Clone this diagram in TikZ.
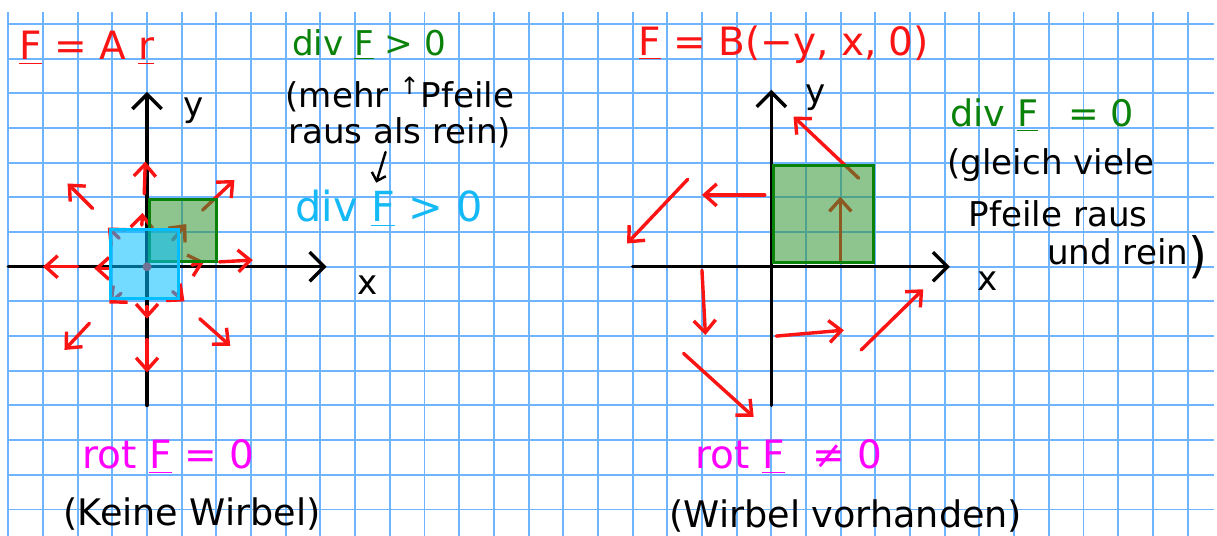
\documentclass[tikz,border=0pt]{standalone}
\usepackage{fontspec}
\setmainfont{DejaVu Sans}
\usetikzlibrary{calc, positioning}
\usetikzlibrary{arrows.meta}

\begin{document}
\begin{tikzpicture}[x=0.5cm,y=0.5cm,
  gridline/.style={draw=gridblue, line width=0.8pt},
  axisline/.style={line width=1.4pt, line cap=round,
    -{Straight Barb[length=6pt,width=12pt]}},
  fieldarrow/.style={draw=penred, line width=1.4pt, line cap=round,
    -{Straight Barb[length=5pt,width=9pt]}},
  notearrow/.style={line width=1pt, line cap=round,
    -{Straight Barb[length=3pt,width=6pt]}},
  handtext/.style={anchor=base west, inner sep=0pt, font=\fontsize{14}{17}\selectfont},
  bigtext/.style={handtext, font=\fontsize{16}{19}\selectfont},
  areabox/.style={line width=1.2pt, fill opacity=0.55, draw opacity=1},
]
\definecolor{gridblue}{RGB}{110,180,255}
\definecolor{penred}{RGB}{250,20,20}
\definecolor{pengreen}{RGB}{10,130,10}
\definecolor{pencyan}{RGB}{20,185,245}
\definecolor{penmagenta}{RGB}{255,0,255}
\definecolor{boxgreen}{RGB}{50,150,50}
\definecolor{boxcyan}{RGB}{0,190,255}

\fill[white] (-0.239,-7.737) rectangle (34.85,7.69);
\useasboundingbox (-0.239,-7.737) rectangle (34.85,7.69);
\draw[gridline, step=1] (-0.05,-7.75) grid (34.75,7.35);

% radial field, left
\coordinate (O1) at (4,0);
\draw[axisline] (0,0) -- (9.18,0);
\draw[axisline] (4,-4) -- (4,5.04);
\foreach \xa/\ya/\xb/\yb in {3.92/2.1/3.95/3.03, 2.43/1.68/1.71/2.4,
  2.0/0/1.0/0, 2.34/-1.63/1.62/-2.4, 4.0/-2.1/4.0/-3.05,
  5.52/-1.5/6.4/-2.28, 6.09/0.14/7.05/0.19, 5.6/1.63/6.52/2.5,
  3.85/1.2/3.87/1.55, 3.2/0.82/2.87/1.13, 2.91/-0.05/2.48/-0.05,
  3.25/-0.77/2.91/-1.06, 4.0/-1.15/4.0/-1.5, 4.74/-0.72/5.08/-1.0,
  5.3/0.05/5.65/0.15, 4.74/0.77/5.13/1.23} {
  \draw[fieldarrow] (\xa,\ya) -- (\xb,\yb);
}
\fill[penred] (O1) circle (0.13);
\draw[areabox, draw=pengreen, fill=boxgreen] (4.07,0.14) rectangle (6.0,1.93);
\draw[areabox, draw=boxcyan, fill=boxcyan] (2.96,-0.92) rectangle (4.9,1.06);
\node[handtext, anchor=center] (yA) at (5.33,4.49) {y};
\node[handtext, anchor=center] (xA) at (10.37,-0.53) {x};

\node[bigtext, text=penred] (fA) at (0.3,5.96) {\underline{F} = A \underline{r}};
\node[handtext, text=pengreen] (divA) at (8.17,6.1) {div \underline{F} > 0};
\node[handtext] (mehr) at (7.98,4.6) {(mehr \textsuperscript{↑}Pfeile};
\node[handtext] (raus) at (8.06,3.55) {raus als rein)};
\node[handtext, font=\fontsize{17}{20}\selectfont, text=pencyan] (divC)
  at (8.27,1.3) {div \underline{F} > 0};
\draw[notearrow] ($(raus.south)+(-0.41,-0.1)$) -- ($(divC.north)+(-0.37,0.2)$);
\node[bigtext, text=penmagenta] (rotA) at (2.13,-5.82) {rot \underline{F} = 0};
\node[handtext, font=\fontsize{15}{18}\selectfont] (keine) at (1.58,-7.45) {(Keine Wirbel)};

% rotating field, right
\coordinate (O2) at (22,0);
\draw[axisline] (18,0) -- (27.15,0);
\draw[axisline] (22,-4) -- (22,5.1);
\foreach \xa/\ya/\xb/\yb in {24.52/2.55/22.64/4.33, 23.99/0.14/23.99/2.02,
  21.81/2.07/20.0/2.07, 19.59/2.52/17.84/0.67, 20.0/-0.1/20.1/-1.97,
  19.47/-2.5/21.49/-4.33, 22.14/-2.0/24.09/-1.83, 24.59/-2.4/26.38/-0.65} {
  \draw[fieldarrow] (\xa,\ya) -- (\xb,\yb);
}
\draw[areabox, draw=pengreen, fill=boxgreen] (22.07,0.12) rectangle (24.95,2.93);
\node[handtext, anchor=center] (yB) at (23.29,4.88) {y};
\node[handtext, anchor=center] (xB) at (28.23,-0.43) {x};

\node[bigtext, text=penred] (fB) at (18.16,6.1) {\underline{F} = B(−y, x, 0)};
\node[handtext, font=\fontsize{15}{18}\selectfont, text=pengreen] (divB)
  at (27.15,4.04) {div \underline{F}\hspace{0.5em} = 0};
\node[handtext] (gleich) at (27.06,2.66) {(gleich viele};
\node[handtext] (pfeile) at (27.68,1.15) {Pfeile raus};
\node[handtext] (rein) at (29.94,0.05)
  {und rein\raisebox{-3pt}{\fontsize{20}{20}\selectfont)}};
\node[bigtext, text=penmagenta] (rotB) at (19.8,-5.82) {rot \underline{F}\hspace{0.4em} ≠ 0};
\node[handtext, font=\fontsize{15}{18}\selectfont] (vorh) at (19.05,-7.53) {(Wirbel vorhanden)};
\end{tikzpicture}
\end{document}
